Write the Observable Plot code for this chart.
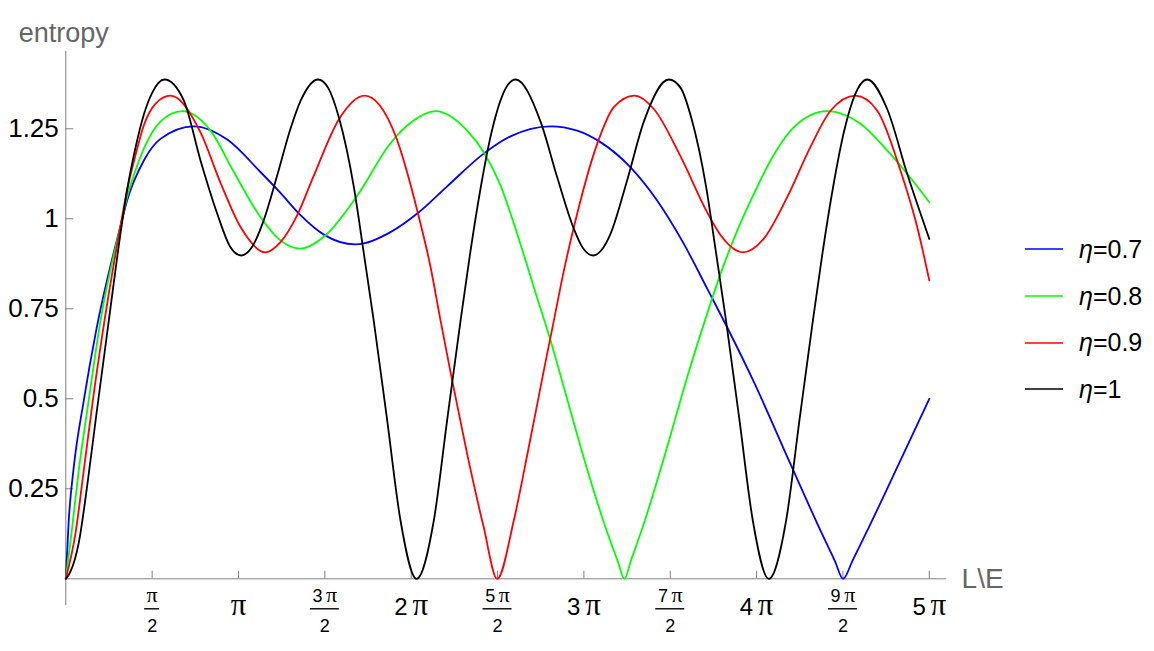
<!DOCTYPE html>
<html><head><meta charset="utf-8">
<script src="https://cdn.jsdelivr.net/npm/d3@7"></script>
<script src="https://cdn.jsdelivr.net/npm/@observablehq/plot@0.6"></script>
<style>
body{margin:0;background:#fff;font-family:"Liberation Sans",Arial,sans-serif;}
#wrap{position:relative;width:1154px;height:651px;overflow:hidden;}
#legend{position:absolute;left:1025px;top:226px;}
.row{height:46.7px;display:flex;align-items:center;font-size:25px;color:#000;}
.row svg{margin-right:16px;}
.row i{font-style:italic;}
</style></head><body><div id="wrap"><div id="legend"></div></div>
<script>
// series labels and colours
const seriesNames = ["η=0.7", "η=0.8", "η=0.9", "η=1"];
const seriesColors = ["#0000ff", "#00ff00", "#ff0000", "#000000"];

// x in units of π, y = entropy
const xBlue = [0,0.017,0.046,0.104,0.176,0.317,0.355,0.452,0.548,0.741,0.935,1.127,1.243,1.359,1.494,1.677,1.880,2.044,2.208,2.420,2.575,2.807,2.961,3.096,3.270,3.424,3.578,3.714,3.849,3.984,4.196,4.370,4.453,4.501,4.555,4.650,4.833,5.0];
const yBlue = [0,0.162,0.310,0.495,0.690,0.981,1.051,1.162,1.222,1.257,1.220,1.130,1.072,1.010,0.956,0.929,0.963,1.018,1.090,1.181,1.229,1.257,1.245,1.213,1.143,1.051,0.931,0.806,0.680,0.547,0.319,0.134,0.05,0,0.05,0.143,0.329,0.5];

const xGreen = [0,0.037,0.075,0.133,0.201,0.317,0.355,0.400,0.452,0.548,0.674,0.838,0.973,1.127,1.243,1.359,1.494,1.687,1.880,2.000,2.141,2.324,2.420,2.517,2.614,2.710,2.807,2.884,3.0,3.125,3.195,3.235,3.272,3.340,3.482,3.598,3.704,3.791,3.888,3.984,4.081,4.215,4.409,4.602,4.756,4.872,5.0];
const yGreen = [0,0.143,0.301,0.497,0.717,0.981,1.060,1.130,1.195,1.270,1.299,1.245,1.130,1.005,0.940,0.917,0.950,1.064,1.210,1.268,1.299,1.245,1.185,1.093,0.958,0.810,0.662,0.532,0.335,0.143,0.05,0,0.05,0.143,0.366,0.560,0.722,0.847,0.967,1.069,1.162,1.254,1.299,1.264,1.190,1.125,1.046];

const xRed = [0,0.056,0.104,0.157,0.224,0.317,0.355,0.400,0.452,0.520,0.606,0.780,0.896,1.012,1.156,1.243,1.340,1.436,1.581,1.730,1.909,2.035,2.112,2.170,2.237,2.324,2.420,2.498,2.594,2.681,2.768,2.826,2.884,2.942,3.077,3.173,3.293,3.405,3.559,3.714,3.791,3.922,4.042,4.177,4.312,4.428,4.573,4.698,4.833,4.930,5.0];
const yRed = [0,0.126,0.301,0.497,0.717,0.981,1.080,1.170,1.260,1.320,1.342,1.240,1.100,0.977,0.907,0.935,1.010,1.120,1.276,1.342,1.231,1.023,0.866,0.717,0.551,0.347,0.143,0,0.162,0.366,0.579,0.717,0.856,0.977,1.208,1.310,1.342,1.305,1.174,1.018,0.955,0.907,0.945,1.060,1.200,1.300,1.342,1.301,1.134,0.977,0.829];

const xBlack = [0,0.027,0.075,0.127,0.178,0.249,0.317,0.355,0.400,0.452,0.500,0.571,0.683,0.780,0.877,0.950,1.016,1.080,1.147,1.224,1.301,1.360,1.461,1.520,1.581,1.668,1.726,1.783,1.861,1.938,2.031,2.131,2.208,2.281,2.340,2.400,2.470,2.530,2.604,2.749,2.845,2.942,2.990,3.054,3.110,3.154,3.251,3.347,3.492,3.561,3.621,3.708,3.766,3.823,3.901,3.978,4.071,4.171,4.248,4.321,4.380,4.440,4.510,4.570,4.640,4.756,4.872,5.0];
const yBlack = [0,0.02,0.10,0.27,0.46,0.717,0.96,1.08,1.19,1.29,1.35,1.387,1.329,1.162,1.014,0.924,0.898,0.923,0.997,1.120,1.250,1.328,1.387,1.363,1.282,1.088,0.903,0.717,0.44,0.162,0,0.162,0.44,0.70,0.90,1.08,1.25,1.345,1.387,1.270,1.116,0.972,0.922,0.898,0.918,0.958,1.108,1.270,1.387,1.363,1.282,1.088,0.903,0.717,0.44,0.162,0,0.162,0.44,0.70,0.90,1.08,1.25,1.345,1.387,1.305,1.125,0.944];

// ticks
const yTickValues = [0.25, 0.5, 0.75, 1, 1.25];
const yTickLabels = ["0.25", "0.5", "0.75", "1", "1.25"];
const xIntTicks = [1, 2, 3, 4, 5];
const xIntLabels = ["π", "2 π", "3 π", "4 π", "5 π"];
const xFracTicks = [0.5, 1.5, 2.5, 3.5, 4.5];
const xFracNumerators = ["π", "3 π", "5 π", "7 π", "9 π"];
const xFracDenominator = "2";

const series = [
  {xs: xBlue, ys: yBlue},
  {xs: xGreen, ys: yGreen},
  {xs: xRed, ys: yRed},
  {xs: xBlack, ys: yBlack}
].map((s, i) => ({name: seriesNames[i], color: seriesColors[i], data: s.xs.map((x, j) => ({x, y: s.ys[j]}))}));

// layout
const W = 1154, H = 651;
const mL = 65.3, mT = 51, mB = 46;
const pxPerPi = 172.7, pxPerUnit = 360;
const xMax = 5.1;
const mR = W - (mL + xMax * pxPerPi);
const yTop = (578.3 - mT) / pxPerUnit;
const yBot = -(H - mB - 578.3) / pxPerUnit;
const axisColor = "#7f7f7f";
const font = "'Liberation Sans', Arial, sans-serif";

const marks = [
  Plot.ruleX([0], {stroke: axisColor, strokeWidth: 1}),
  Plot.ruleY([0], {stroke: axisColor, strokeWidth: 1}),
  Plot.ruleX([...xFracTicks, ...xIntTicks], {x: d => d, y1: 0, y2: 7.5 / pxPerUnit, stroke: axisColor}),
  Plot.ruleY(yTickValues, {y: d => d, x1: 0, x2: 8 / pxPerPi, stroke: axisColor}),
  ...series.map(s => Plot.line(s.data, {x: "x", y: "y", stroke: s.color, strokeWidth: 1.8, curve: "monotone-x"})),
  Plot.text(yTickValues, {x: 0, y: d => d, text: (d, i) => yTickLabels[i], textAnchor: "end", dx: -7, fontSize: 26, fill: "#000"}),
  Plot.text(xIntTicks, {x: d => d, y: 0, text: (d, i) => xIntLabels[i], dy: 29, fontSize: 24, fill: "#000"}),
  Plot.text(xFracTicks, {x: d => d, y: 0, text: (d, i) => xFracNumerators[i], dy: 17, fontSize: 18, fill: "#000"}),
  Plot.ruleY(xFracTicks, {y: 0, x1: d => d - (d === 0.5 ? 7.5 : 14.5) / pxPerPi, x2: d => d + (d === 0.5 ? 7.5 : 14.5) / pxPerPi, dy: 30, stroke: "#000", strokeWidth: 1.4}),
  Plot.text(xFracTicks, {x: d => d, y: 0, text: () => xFracDenominator, dy: 47, fontSize: 18, fill: "#000"}),
  Plot.text(["entropy"], {frameAnchor: "top-left", text: d => d, dx: -47, dy: -28.6, textAnchor: "start", fontSize: 27, fill: "#666"}),
  Plot.text(["L\\E"], {x: xMax, y: 0, text: d => d, dx: 15, textAnchor: "start", fontSize: 28, fill: "#666"})
];

const chart = Plot.plot({
  width: W, height: H,
  marginLeft: mL, marginRight: mR, marginTop: mT, marginBottom: mB,
  x: {domain: [0, xMax], axis: null},
  y: {domain: [yBot, yTop], axis: null},
  style: {fontFamily: font, background: "#fff", overflow: "visible"},
  marks
});

// render the π glyphs larger, as in the reference
d3.select(chart).selectAll("text")
  .filter(function () { return this.textContent.includes("π"); })
  .each(function () {
    const parentSize = parseFloat(this.parentNode.getAttribute("font-size")) || 18;
    const piSize = parentSize >= 22 ? 31 : 22;
    const [pre] = this.textContent.split("π");
    const sel = d3.select(this);
    sel.text(null);
    if (pre.trim()) sel.append("tspan").text(pre.trim() + "\u2009");
    sel.append("tspan").attr("font-size", piSize).attr("font-family", "'Liberation Serif', serif").text("π");
  });

const wrap = document.getElementById("wrap");
wrap.insertBefore(chart, wrap.firstChild);

const legend = document.getElementById("legend");
series.forEach(s => {
  const row = document.createElement("div");
  row.className = "row";
  const [eta, val] = s.name.split("=");
  row.innerHTML = `<svg width="38" height="4"><line x1="0" x2="38" y1="2" y2="2" stroke="${s.color}" stroke-width="1.5"/></svg><span><i>${eta}</i>=${val}</span>`;
  legend.appendChild(row);
});
</script>
</body></html>
